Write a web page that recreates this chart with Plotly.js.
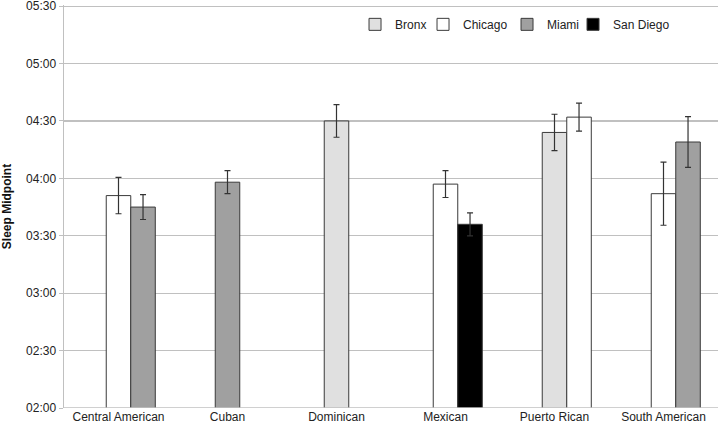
<!DOCTYPE html>
<html>
<head>
<meta charset="utf-8">
<script src="https://cdn.plot.ly/plotly-3.0.1.min.js"></script>
<style>
  html, body { margin: 0; padding: 0; background: #fff; }
  #chart { width: 719px; height: 427px; }
</style>
</head>
<body>
<div id="chart"></div>
<script>
// Hispanic background groups along the x axis
const categories = ['Central American', 'Cuban', 'Dominican', 'Mexican', 'Puerto Rican', 'South American'];

// Sites (series), in legend order
const sites = ['Bronx', 'Chicago', 'Miami', 'San Diego'];

// Mean sleep midpoint per category (clock time), null where the site has no bar
const bronxMean    = [null,    null,    '04:30', null,    '04:24', null];
const chicagoMean  = ['03:51', null,    null,    '03:57', '04:32', '03:52'];
const miamiMean    = ['03:45', '03:58', null,    null,    null,    '04:19'];
const sanDiegoMean = [null,    null,    null,    '03:36', null,    null];

// Error bar half-length in minutes
const bronxErr    = [null, null, 8.5, null, 9.5, null];
const chicagoErr  = [9.5, null, null, 7, 7.3, 16.5];
const miamiErr    = [6.5, 6, null, null, null, 13.3];
const sanDiegoErr = [null, null, null, 6, null, null];

const yTickLabels = ['02:00', '02:30', '03:00', '03:30', '04:00', '04:30', '05:00', '05:30'];

// styling
const siteColors = ['#e0e0e0', '#ffffff', '#a0a0a0', '#000000'];
const legendWidths = [23, 39, 21, 60];
const barWidth = 0.225;
const gridGray = '#c0c0c0';

function toMinutes(t) {
    const [h, m] = t.split(':').map(Number);
    return h * 60 + m;
}

const means = [bronxMean, chicagoMean, miamiMean, sanDiegoMean];
const errs = [bronxErr, chicagoErr, miamiErr, sanDiegoErr];

// first bar present in a category sits on the category centre, the next one to its right
function slotOf(siteIdx, catIdx) {
    let k = 0;
    for (let s = 0; s < siteIdx; s++) {
        if (means[s][catIdx] !== null) k++;
    }
    return k;
}

const traces = sites.map((site, s) => {
    const x = [], y = [], e = [], off = [];
    categories.forEach((cat, c) => {
        if (means[s][c] === null) return;
        x.push(cat);
        y.push(toMinutes(means[s][c]));
        e.push(errs[s][c]);
        off.push(-barWidth / 2 + slotOf(s, c) * barWidth);
    });
    return {
        type: 'bar',
        name: site,
        x: x,
        y: y,
        base: 0,
        width: barWidth,
        offset: off,
        legendwidth: legendWidths[s],
        marker: { color: siteColors[s], line: { color: '#3a3a3a', width: 1 } },
        error_y: { type: 'data', array: e, visible: true, color: '#333333', thickness: 1.2, width: 3 },
        hoverinfo: 'x+y+name'
    };
});

const tickVals = yTickLabels.map(toMinutes);
const yMin = tickVals[0];
const yMax = tickVals[tickVals.length - 1];

const layout = {
    width: 719,
    height: 427,
    margin: { l: 64, r: 1, t: 5, b: 19 },
    paper_bgcolor: '#ffffff',
    plot_bgcolor: '#ffffff',
    font: { family: 'Liberation Sans, Arial, sans-serif', size: 12, color: '#222222' },
    showlegend: true,
    legend: {
        orientation: 'h',
        x: 0.445,
        xanchor: 'left',
        y: 0.952,
        yanchor: 'middle',
        bgcolor: 'rgba(255,255,255,0)',
        font: { size: 12, color: '#222222' },
        traceorder: 'normal'
    },
    xaxis: {
        type: 'category',
        categoryorder: 'array',
        categoryarray: categories,
        range: [-0.5, categories.length - 0.5],
        showgrid: false,
        showline: false,
        zeroline: false,
        ticks: '',
        tickfont: { size: 12, color: '#222222' }
    },
    yaxis: {
        range: [yMin, yMax + 0.6],
        tickvals: tickVals,
        ticktext: yTickLabels,
        ticklabeloverflow: 'allow',
        showgrid: true,
        gridcolor: gridGray,
        gridwidth: 1.3,
        showline: true,
        linecolor: gridGray,
        linewidth: 1.5,
        zeroline: false,
        ticks: 'outside',
        ticklen: 4,
        tickcolor: gridGray,
        tickfont: { size: 12, color: '#222222' },
        title: { text: '<b>Sleep Midpoint</b>', font: { size: 12, color: '#111111' }, standoff: 12 }
    },
    shapes: [
        { type: 'line', xref: 'paper', yref: 'y', x0: 0, x1: 1, y0: yMin, y1: yMin,
          line: { color: gridGray, width: 1.5 } }
    ]
};

Plotly.newPlot('chart', traces, layout, { displayModeBar: false, staticPlot: true });
</script>
</body>
</html>
